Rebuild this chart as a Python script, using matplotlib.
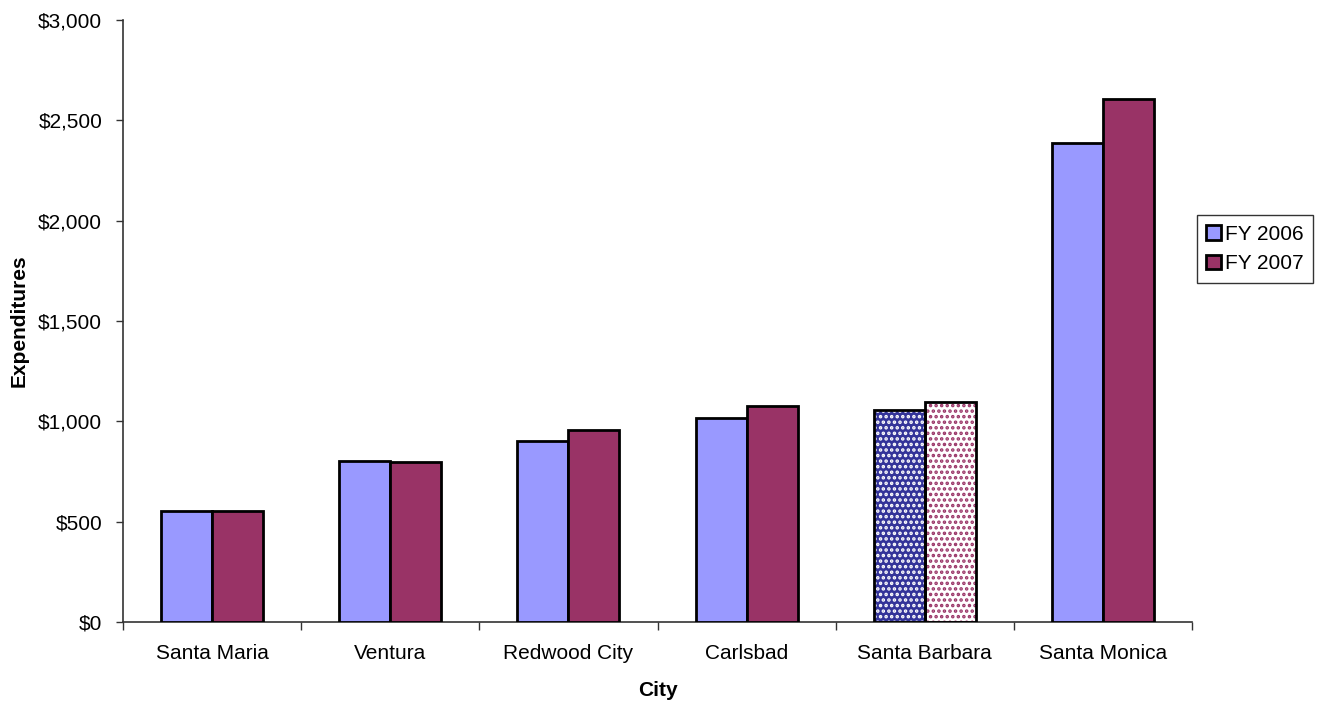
import matplotlib
matplotlib.use("Agg")
import matplotlib.pyplot as plt
import numpy as np
from matplotlib.patches import Patch
from matplotlib.ticker import FuncFormatter, MultipleLocator

plt.rcParams['font.family'] = ['Liberation Sans', 'DejaVu Sans']
plt.rcParams['hatch.linewidth'] = 1.7

cities = ["Santa Maria", "Ventura", "Redwood City", "Carlsbad", "Santa Barbara", "Santa Monica"]
fy2006 = [552, 801, 903, 1017, 1055, 2388]
fy2007 = [554, 796, 956, 1075, 1097, 2606]
series_names = ["FY 2006", "FY 2007"]
highlight = "Santa Barbara"

c2006 = "#9999FF"
c2007 = "#993366"
c2006_hl = "#333399"

fig = plt.figure(figsize=(13.22, 7.06), dpi=100)
ax = fig.add_axes([123/1322, 1 - 622/706, (1192-123)/1322, (622-20)/706])

x = np.arange(len(cities))
w = 0.286

for i, city in enumerate(cities):
    for j, (vals, col) in enumerate(((fy2006, c2006), (fy2007, c2007))):
        xpos = x[i] + (w/2 if j else -w/2)
        if city == highlight:
            if j == 0:
                ax.bar(xpos, vals[i], w, color=c2006_hl, edgecolor="white", hatch="...", linewidth=0, zorder=2)
            else:
                ax.bar(xpos, vals[i], w, color="white", edgecolor=c2007, hatch="...", linewidth=0, zorder=2)
            ax.bar(xpos, vals[i], w, fill=False, edgecolor="black", linewidth=2, zorder=3)
        else:
            ax.bar(xpos, vals[i], w, color=col, edgecolor="black", linewidth=2, zorder=3)

ax.set_xlim(-0.5, len(cities) - 0.5)
ax.set_ylim(0, 3000)
ax.yaxis.set_major_locator(MultipleLocator(500))
ax.yaxis.set_major_formatter(FuncFormatter(lambda v, p: "${:,.0f}".format(v)))

ax.set_xticks(x)
ax.set_xticklabels(cities)
ax.set_xticks(np.arange(-0.5, len(cities), 1.0), minor=True)
ax.tick_params(axis='x', which='major', length=0, pad=16, labelsize=15)
ax.tick_params(axis='x', which='minor', length=6, width=1, color="#333333", direction='out')
ax.tick_params(axis='y', which='major', length=5, width=1, color="#333333", direction='out', pad=10, labelsize=15)

for s in ("top", "right"):
    ax.spines[s].set_visible(False)
for s in ("left", "bottom"):
    ax.spines[s].set_color("#333333")
    ax.spines[s].set_linewidth(1.2)

ax.set_xlabel("City", fontsize=15, fontweight="bold", labelpad=13)
ax.set_ylabel("Expenditures", fontsize=15, fontweight="bold", labelpad=7)

handles = [Patch(facecolor=c2006, edgecolor="black", linewidth=2, label=series_names[0]),
           Patch(facecolor=c2007, edgecolor="black", linewidth=2, label=series_names[1])]
leg = fig.legend(handles=handles, loc="center left", bbox_to_anchor=(1197/1322, 1 - 249/706),
                 fontsize=15, frameon=True, fancybox=False, edgecolor="black",
                 handlelength=0.7, handleheight=0.7, handletextpad=0.2, borderpad=0.45,
                 labelspacing=0.5, borderaxespad=0)
leg.get_frame().set_linewidth(1.0)

fig.savefig("out.png", dpi=100)
